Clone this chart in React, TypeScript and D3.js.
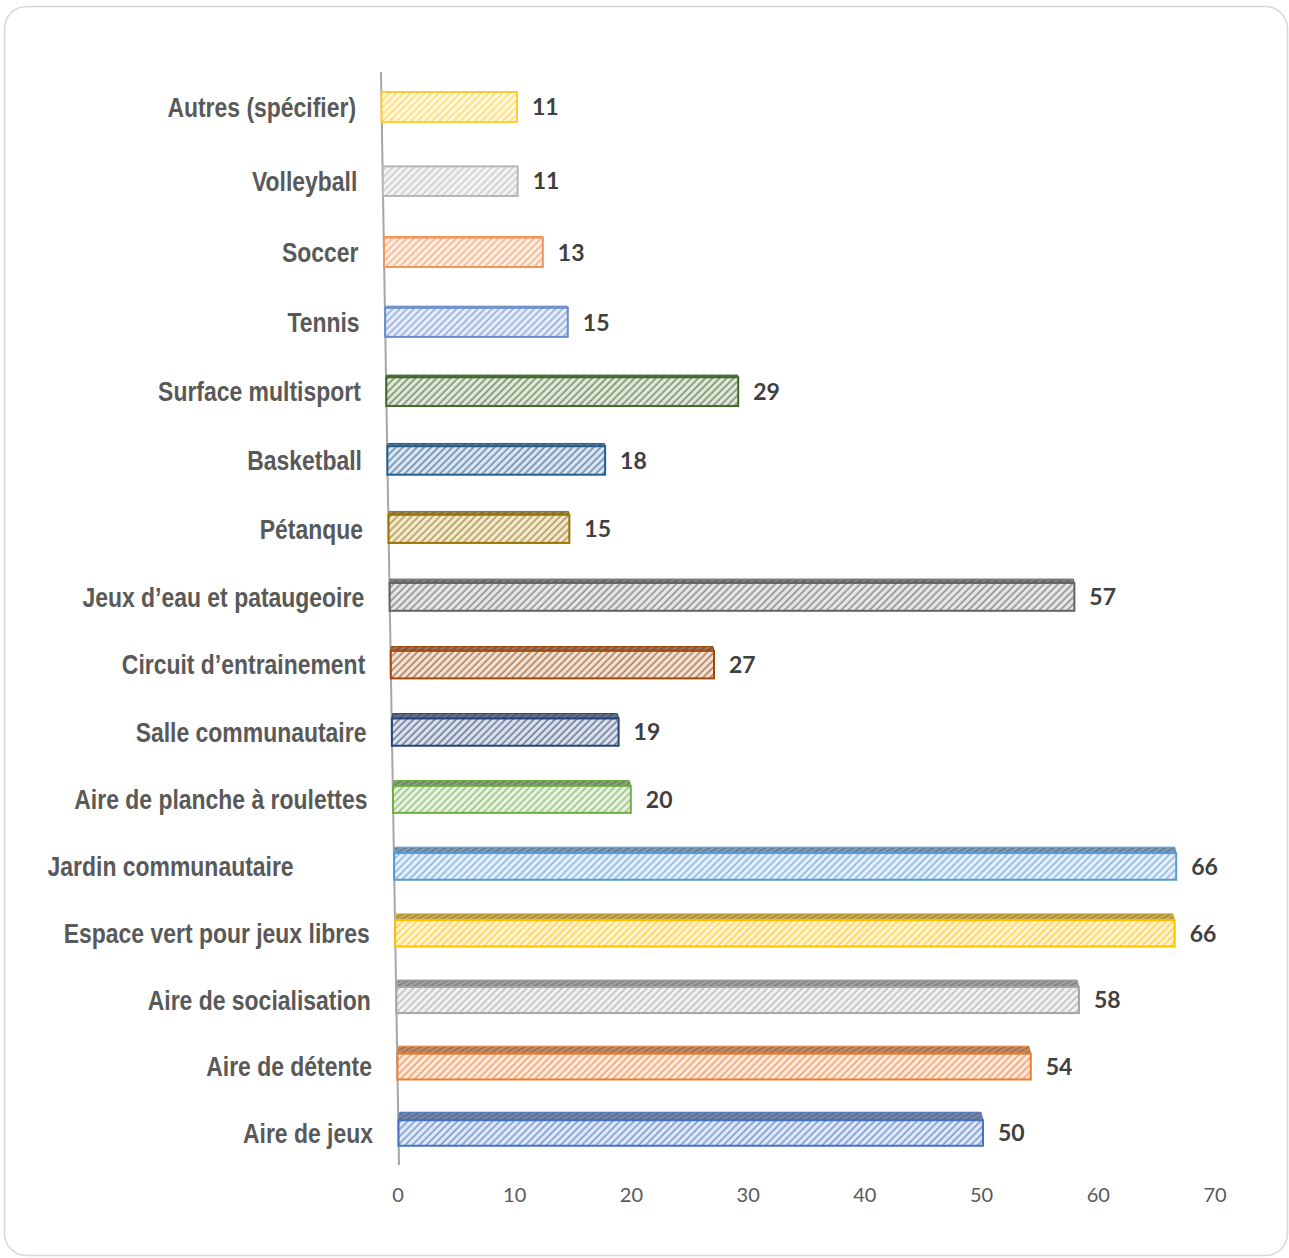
import React from "react";
import * as d3 from "d3";

// Data listed from bottom of chart to top
const categories = [
  "Aire de jeux",
  "Aire de détente",
  "Aire de socialisation",
  "Espace vert pour jeux libres",
  "Jardin communautaire",
  "Aire de planche à roulettes",
  "Salle communautaire",
  "Circuit d’entrainement",
  "Jeux d’eau et pataugeoire",
  "Pétanque",
  "Basketball",
  "Surface multisport",
  "Tennis",
  "Soccer",
  "Volleyball",
  "Autres (spécifier)",
];
const values = [50, 54, 58, 66, 66, 20, 19, 27, 57, 15, 18, 29, 15, 13, 11, 11];
const colors = [
  "#4472C4", "#ED7D31", "#A5A5A5", "#FFC000", "#5B9BD5", "#70AD47",
  "#264478", "#9E480E", "#636363", "#997300", "#255E91", "#43682B",
  "#698ED0", "#F1975A", "#B7B7B7", "#FFCD33",
];
const tickValues = [0, 10, 20, 30, 40, 50, 60, 70];

const W = 1289;
const H = 1258;

// geometry of the perspective plot
const AXIS_TOP = 72;
const AXIS_BOTTOM = 1162;
const rowY = d3.scalePow().exponent(0.97).domain([0, categories.length - 1]).range([107, 1133]);

const xAt = (y: number) => {
  const s = (y - AXIS_TOP) / (AXIS_BOTTOM - AXIS_TOP);
  return d3
    .scaleLinear()
    .domain([0, 70])
    .range([d3.interpolateNumber(381, 399)(s), d3.interpolateNumber(1244, 1216)(s)]);
};

const labelExtraShift: Record<string, number> = { "Jardin communautaire": 75 };

export default function App() {
  const n = categories.length;
  const rows = categories.map((c, i) => {
    const fromTop = n - 1 - i;
    const y = rowY(fromTop);
    const t = (y - 107) / (1133 - 107);
    const h = 30 - 4.5 * t;
    const depth = 8 * t;
    const xs = xAt(y);
    return { c, v: values[i], color: colors[i], y, h, depth, xs, i };
  });
  const tickScale = xAt(AXIS_BOTTOM);

  return (
    <svg
      width={W}
      height={H}
      style={{ position: "absolute", left: 0, top: 0, background: "#fff" }}
      xmlns="http://www.w3.org/2000/svg"
    >
      <defs>
        {rows.map((r) => {
          const light = d3.interpolateRgb("#ffffff", r.color)(0.16);
          const stripe = d3.interpolateRgb("#ffffff", r.color)(0.75);
          const topBg = d3.interpolateRgb(r.color, "#a0a0a0")(0.55);
          const topStripe = d3.color(d3.interpolateRgb(r.color, "#707070")(0.55))!.darker(0.5).formatHex();
          return (
            <React.Fragment key={r.i}>
              <pattern
                id={`front${r.i}`}
                patternUnits="userSpaceOnUse"
                width={5}
                height={5}
                patternTransform="rotate(45)"
              >
                <rect width={5} height={5} fill={light} />
                <line x1={1.2} y1={0} x2={1.2} y2={5} stroke={stripe} strokeWidth={1.5} />
              </pattern>
              <pattern
                id={`top${r.i}`}
                patternUnits="userSpaceOnUse"
                width={4}
                height={4}
                patternTransform="rotate(60)"
              >
                <rect width={4} height={4} fill={topBg} />
                <line x1={1} y1={0} x2={1} y2={4} stroke={topStripe} strokeWidth={1.3} />
              </pattern>
            </React.Fragment>
          );
        })}
      </defs>

      <rect x={4.5} y={6.5} width={1283} height={1249} rx={22} ry={22} fill="#fff" stroke="#d9d9d9" strokeWidth={1.6} />

      {/* vertical axis line */}
      <line x1={381} y1={AXIS_TOP} x2={399} y2={AXIS_BOTTOM + 3} stroke="#a6a6a6" strokeWidth={2} />

      {rows.map((r) => {
        const x0 = r.xs(0);
        const x1 = r.xs(r.v);
        const yTop = r.y - r.h / 2;
        const d = r.depth;
        const topPath = `M${x0},${yTop} L${x0 + d * 0.15},${yTop - d} L${x1 - d * 0.25},${yTop - d} L${x1},${yTop} Z`;
        const lx = x0 - 25.5 - (labelExtraShift[r.c] || 0);
        return (
          <g key={r.i}>
            {d > 0.8 && (
              <path d={topPath} fill={`url(#top${r.i})`} stroke={r.color} strokeWidth={1} strokeLinejoin="round" />
            )}
            <rect
              x={x0}
              y={yTop}
              width={x1 - x0}
              height={r.h}
              fill={`url(#front${r.i})`}
              stroke={r.color}
              strokeWidth={2}
            />
            <text
              x={x1 + 15}
              y={r.y}
              dy="0.36em"
              fontFamily="Lato, 'Open Sans', sans-serif"
              fontWeight={700}
              fontSize={23}
              fill="#404040"
            >
              {r.v}
            </text>
            <g transform={`translate(${lx},${r.y}) scale(0.85,1)`}>
              <text
                x={0}
                y={0}
                dy="0.36em"
                textAnchor="end"
                fontFamily="'Liberation Sans', Arial, sans-serif"
                fontWeight={700}
                fontSize={27}
                fill="#595959"
              >
                {r.c}
              </text>
            </g>
          </g>
        );
      })}

      {tickValues.map((tv) => (
        <text
          key={tv}
          x={tickScale(tv) - 1}
          y={1195}
          dy="0.36em"
          textAnchor="middle"
          fontFamily="Lato, 'Open Sans', sans-serif"
          fontSize={20}
          fill="#595959"
        >
          {tv}
        </text>
      ))}
    </svg>
  );
}
